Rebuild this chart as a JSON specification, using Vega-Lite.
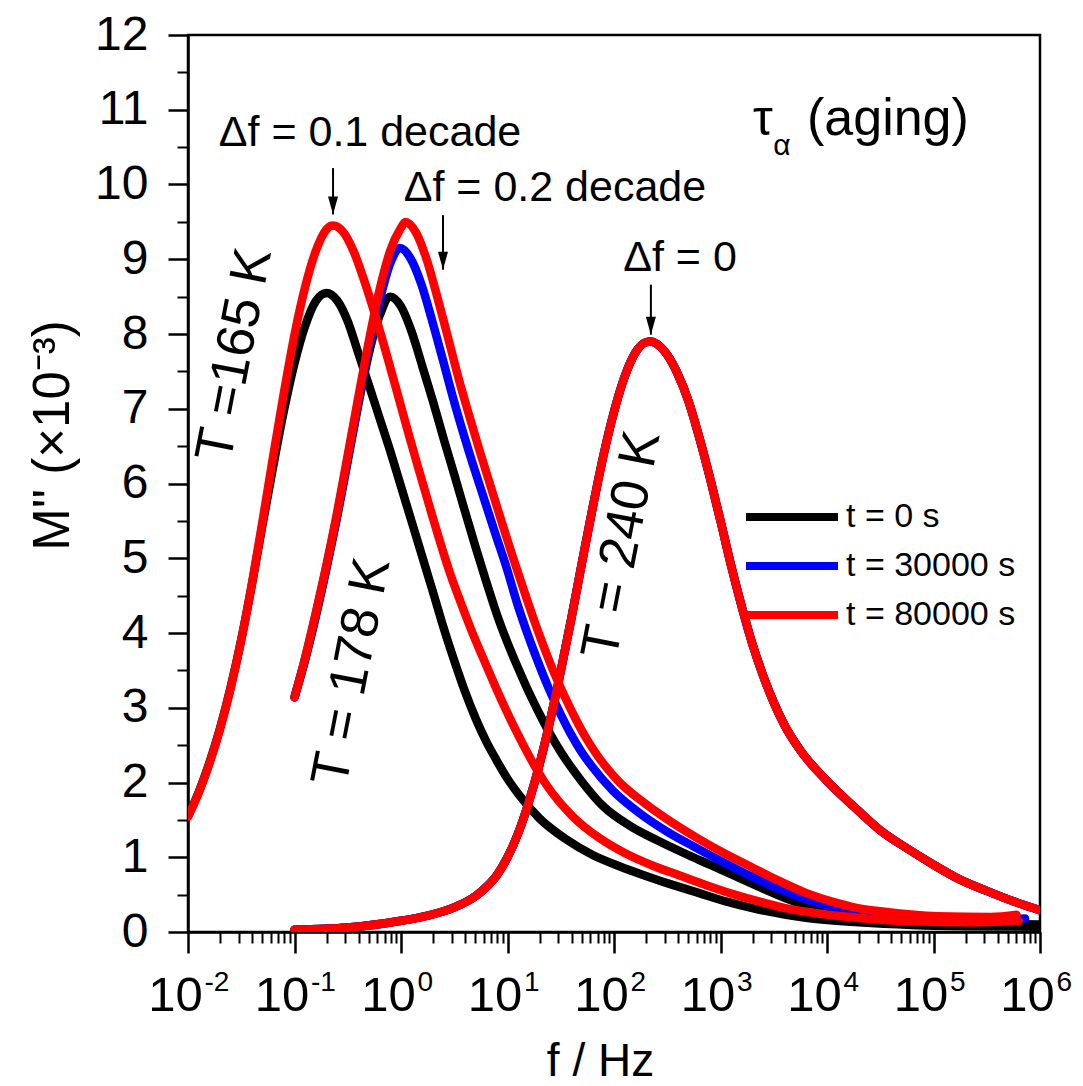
{
  "$schema": "https://vega.github.io/schema/vega-lite/v6.json",
  "width": 852,
  "height": 897,
  "autosize": {"type": "none"},
  "padding": {"left": 188, "top": 35, "right": 43, "bottom": 154},
  "config": {
    "font": "Liberation Sans",
    "view": {"stroke": "black", "strokeWidth": 2.5},
    "axis": {"grid": false, "domainColor": "black", "tickColor": "black", "labelColor": "black", "titleColor": "black", "labelFont": "Liberation Sans", "titleFont": "Liberation Sans", "titleFontWeight": "normal"}
  },
  "datasets": {
    "curves": [
      {"T":165,"t":"t = 0 s","f":0.01,"M":1.55},
      {"T":165,"t":"t = 0 s","f":0.012589,"M":1.87},
      {"T":165,"t":"t = 0 s","f":0.015849,"M":2.26},
      {"T":165,"t":"t = 0 s","f":0.019953,"M":2.72},
      {"T":165,"t":"t = 0 s","f":0.025119,"M":3.27},
      {"T":165,"t":"t = 0 s","f":0.031623,"M":3.91},
      {"T":165,"t":"t = 0 s","f":0.039811,"M":4.65},
      {"T":165,"t":"t = 0 s","f":0.050119,"M":5.45},
      {"T":165,"t":"t = 0 s","f":0.063096,"M":6.23},
      {"T":165,"t":"t = 0 s","f":0.079433,"M":6.97},
      {"T":165,"t":"t = 0 s","f":0.1,"M":7.61},
      {"T":165,"t":"t = 0 s","f":0.12589,"M":8.11},
      {"T":165,"t":"t = 0 s","f":0.15849,"M":8.44},
      {"T":165,"t":"t = 0 s","f":0.19953,"M":8.55},
      {"T":165,"t":"t = 0 s","f":0.25119,"M":8.45},
      {"T":165,"t":"t = 0 s","f":0.31623,"M":8.17},
      {"T":165,"t":"t = 0 s","f":0.39811,"M":7.74},
      {"T":165,"t":"t = 0 s","f":0.50119,"M":7.31},
      {"T":165,"t":"t = 0 s","f":0.63096,"M":6.87},
      {"T":165,"t":"t = 0 s","f":0.79433,"M":6.43},
      {"T":165,"t":"t = 0 s","f":1.0,"M":5.96},
      {"T":165,"t":"t = 0 s","f":1.2589,"M":5.49},
      {"T":165,"t":"t = 0 s","f":1.5849,"M":5.02},
      {"T":165,"t":"t = 0 s","f":1.9953,"M":4.55},
      {"T":165,"t":"t = 0 s","f":2.5119,"M":4.07},
      {"T":165,"t":"t = 0 s","f":3.1623,"M":3.63},
      {"T":165,"t":"t = 0 s","f":3.9811,"M":3.22},
      {"T":165,"t":"t = 0 s","f":5.0119,"M":2.86},
      {"T":165,"t":"t = 0 s","f":6.3096,"M":2.55},
      {"T":165,"t":"t = 0 s","f":7.9433,"M":2.29},
      {"T":165,"t":"t = 0 s","f":10.0,"M":2.05},
      {"T":165,"t":"t = 0 s","f":12.589,"M":1.85},
      {"T":165,"t":"t = 0 s","f":19.953,"M":1.52},
      {"T":165,"t":"t = 0 s","f":35.481,"M":1.24},
      {"T":165,"t":"t = 0 s","f":63.096,"M":1.03},
      {"T":165,"t":"t = 0 s","f":112.2,"M":0.88},
      {"T":165,"t":"t = 0 s","f":199.53,"M":0.75},
      {"T":165,"t":"t = 0 s","f":354.81,"M":0.63},
      {"T":165,"t":"t = 0 s","f":630.96,"M":0.52},
      {"T":165,"t":"t = 0 s","f":1122,"M":0.41},
      {"T":165,"t":"t = 0 s","f":1995.3,"M":0.32},
      {"T":165,"t":"t = 0 s","f":6309.6,"M":0.19},
      {"T":165,"t":"t = 0 s","f":19953,"M":0.13},
      {"T":165,"t":"t = 0 s","f":63096,"M":0.094},
      {"T":165,"t":"t = 0 s","f":199526,"M":0.077},
      {"T":165,"t":"t = 0 s","f":1000000,"M":0.07},

      {"T":178,"t":"t = 0 s","f":0.1,"M":3.14},
      {"T":178,"t":"t = 0 s","f":0.12589,"M":3.64},
      {"T":178,"t":"t = 0 s","f":0.15849,"M":4.22},
      {"T":178,"t":"t = 0 s","f":0.19953,"M":4.86},
      {"T":178,"t":"t = 0 s","f":0.25119,"M":5.55},
      {"T":178,"t":"t = 0 s","f":0.31623,"M":6.3},
      {"T":178,"t":"t = 0 s","f":0.39811,"M":7.06},
      {"T":178,"t":"t = 0 s","f":0.50119,"M":7.75},
      {"T":178,"t":"t = 0 s","f":0.63096,"M":8.25},
      {"T":178,"t":"t = 0 s","f":0.79433,"M":8.5},
      {"T":178,"t":"t = 0 s","f":1.0,"M":8.37},
      {"T":178,"t":"t = 0 s","f":1.2589,"M":8.03},
      {"T":178,"t":"t = 0 s","f":1.5849,"M":7.57},
      {"T":178,"t":"t = 0 s","f":1.9953,"M":7.1},
      {"T":178,"t":"t = 0 s","f":2.5119,"M":6.6},
      {"T":178,"t":"t = 0 s","f":3.1623,"M":6.12},
      {"T":178,"t":"t = 0 s","f":3.9811,"M":5.63},
      {"T":178,"t":"t = 0 s","f":5.0119,"M":5.15},
      {"T":178,"t":"t = 0 s","f":6.3096,"M":4.69},
      {"T":178,"t":"t = 0 s","f":7.9433,"M":4.25},
      {"T":178,"t":"t = 0 s","f":10.0,"M":3.87},
      {"T":178,"t":"t = 0 s","f":12.589,"M":3.53},
      {"T":178,"t":"t = 0 s","f":15.849,"M":3.21},
      {"T":178,"t":"t = 0 s","f":19.953,"M":2.92},
      {"T":178,"t":"t = 0 s","f":25.119,"M":2.65},
      {"T":178,"t":"t = 0 s","f":31.623,"M":2.41},
      {"T":178,"t":"t = 0 s","f":39.811,"M":2.2},
      {"T":178,"t":"t = 0 s","f":50.119,"M":2.01},
      {"T":178,"t":"t = 0 s","f":79.433,"M":1.68},
      {"T":178,"t":"t = 0 s","f":141.25,"M":1.42},
      {"T":178,"t":"t = 0 s","f":251.19,"M":1.23},
      {"T":178,"t":"t = 0 s","f":446.68,"M":1.06},
      {"T":178,"t":"t = 0 s","f":794.33,"M":0.9},
      {"T":178,"t":"t = 0 s","f":1412.5,"M":0.74},
      {"T":178,"t":"t = 0 s","f":2511.9,"M":0.58},
      {"T":178,"t":"t = 0 s","f":4466.8,"M":0.43},
      {"T":178,"t":"t = 0 s","f":7943.3,"M":0.31},
      {"T":178,"t":"t = 0 s","f":14125,"M":0.23},
      {"T":178,"t":"t = 0 s","f":25119,"M":0.18},
      {"T":178,"t":"t = 0 s","f":79433,"M":0.13},
      {"T":178,"t":"t = 0 s","f":251189,"M":0.11},
      {"T":178,"t":"t = 0 s","f":1000000,"M":0.1},

      {"T":240,"t":"t = 0 s","f":0.1,"M":0.03},
      {"T":240,"t":"t = 0 s","f":0.31623,"M":0.06},
      {"T":240,"t":"t = 0 s","f":1.0,"M":0.15},
      {"T":240,"t":"t = 0 s","f":1.7783,"M":0.22},
      {"T":240,"t":"t = 0 s","f":3.1623,"M":0.33},
      {"T":240,"t":"t = 0 s","f":5.0119,"M":0.48},
      {"T":240,"t":"t = 0 s","f":6.3096,"M":0.6},
      {"T":240,"t":"t = 0 s","f":7.9433,"M":0.76},
      {"T":240,"t":"t = 0 s","f":10.0,"M":1.0},
      {"T":240,"t":"t = 0 s","f":12.589,"M":1.32},
      {"T":240,"t":"t = 0 s","f":15.849,"M":1.74},
      {"T":240,"t":"t = 0 s","f":19.953,"M":2.24},
      {"T":240,"t":"t = 0 s","f":25.119,"M":2.83},
      {"T":240,"t":"t = 0 s","f":31.623,"M":3.49},
      {"T":240,"t":"t = 0 s","f":39.811,"M":4.2},
      {"T":240,"t":"t = 0 s","f":50.119,"M":4.95},
      {"T":240,"t":"t = 0 s","f":63.096,"M":5.68},
      {"T":240,"t":"t = 0 s","f":79.433,"M":6.37},
      {"T":240,"t":"t = 0 s","f":100.0,"M":6.96},
      {"T":240,"t":"t = 0 s","f":125.89,"M":7.43},
      {"T":240,"t":"t = 0 s","f":158.49,"M":7.75},
      {"T":240,"t":"t = 0 s","f":199.53,"M":7.89},
      {"T":240,"t":"t = 0 s","f":223.87,"M":7.9},
      {"T":240,"t":"t = 0 s","f":251.19,"M":7.87},
      {"T":240,"t":"t = 0 s","f":316.23,"M":7.72},
      {"T":240,"t":"t = 0 s","f":398.11,"M":7.46},
      {"T":240,"t":"t = 0 s","f":501.19,"M":7.1},
      {"T":240,"t":"t = 0 s","f":630.96,"M":6.62},
      {"T":240,"t":"t = 0 s","f":794.33,"M":6.08},
      {"T":240,"t":"t = 0 s","f":1000,"M":5.5},
      {"T":240,"t":"t = 0 s","f":1258.9,"M":4.9},
      {"T":240,"t":"t = 0 s","f":1584.9,"M":4.35},
      {"T":240,"t":"t = 0 s","f":1995.3,"M":3.85},
      {"T":240,"t":"t = 0 s","f":2511.9,"M":3.43},
      {"T":240,"t":"t = 0 s","f":3162.3,"M":3.07},
      {"T":240,"t":"t = 0 s","f":3981.1,"M":2.77},
      {"T":240,"t":"t = 0 s","f":5623.4,"M":2.43},
      {"T":240,"t":"t = 0 s","f":10000,"M":2.02},
      {"T":240,"t":"t = 0 s","f":17783,"M":1.68},
      {"T":240,"t":"t = 0 s","f":31623,"M":1.36},
      {"T":240,"t":"t = 0 s","f":56234,"M":1.12},
      {"T":240,"t":"t = 0 s","f":100000,"M":0.9},
      {"T":240,"t":"t = 0 s","f":177828,"M":0.7},
      {"T":240,"t":"t = 0 s","f":316228,"M":0.55},
      {"T":240,"t":"t = 0 s","f":562341,"M":0.41},
      {"T":240,"t":"t = 0 s","f":1000000,"M":0.29},

      {"T":178,"t":"t = 30000 s","f":0.1,"M":3.14},
      {"T":178,"t":"t = 30000 s","f":0.12589,"M":3.66},
      {"T":178,"t":"t = 30000 s","f":0.15849,"M":4.25},
      {"T":178,"t":"t = 30000 s","f":0.19953,"M":4.89},
      {"T":178,"t":"t = 30000 s","f":0.25119,"M":5.58},
      {"T":178,"t":"t = 30000 s","f":0.31623,"M":6.34},
      {"T":178,"t":"t = 30000 s","f":0.39811,"M":7.11},
      {"T":178,"t":"t = 30000 s","f":0.50119,"M":7.84},
      {"T":178,"t":"t = 30000 s","f":0.63096,"M":8.45},
      {"T":178,"t":"t = 30000 s","f":0.79433,"M":8.95},
      {"T":178,"t":"t = 30000 s","f":0.97724,"M":9.15},
      {"T":178,"t":"t = 30000 s","f":1.2303,"M":9.01},
      {"T":178,"t":"t = 30000 s","f":1.5488,"M":8.67},
      {"T":178,"t":"t = 30000 s","f":1.9498,"M":8.19},
      {"T":178,"t":"t = 30000 s","f":2.4547,"M":7.67},
      {"T":178,"t":"t = 30000 s","f":3.0903,"M":7.14},
      {"T":178,"t":"t = 30000 s","f":3.8905,"M":6.65},
      {"T":178,"t":"t = 30000 s","f":4.8978,"M":6.19},
      {"T":178,"t":"t = 30000 s","f":6.166,"M":5.75},
      {"T":178,"t":"t = 30000 s","f":7.7625,"M":5.31},
      {"T":178,"t":"t = 30000 s","f":9.7724,"M":4.88},
      {"T":178,"t":"t = 30000 s","f":12.303,"M":4.4},
      {"T":178,"t":"t = 30000 s","f":15.488,"M":3.98},
      {"T":178,"t":"t = 30000 s","f":19.498,"M":3.6},
      {"T":178,"t":"t = 30000 s","f":24.547,"M":3.25},
      {"T":178,"t":"t = 30000 s","f":30.903,"M":2.94},
      {"T":178,"t":"t = 30000 s","f":38.905,"M":2.66},
      {"T":178,"t":"t = 30000 s","f":48.978,"M":2.42},
      {"T":178,"t":"t = 30000 s","f":61.66,"M":2.22},
      {"T":178,"t":"t = 30000 s","f":97.724,"M":1.89},
      {"T":178,"t":"t = 30000 s","f":173.78,"M":1.59},
      {"T":178,"t":"t = 30000 s","f":309.03,"M":1.35},
      {"T":178,"t":"t = 30000 s","f":549.54,"M":1.15},
      {"T":178,"t":"t = 30000 s","f":977.24,"M":0.96},
      {"T":178,"t":"t = 30000 s","f":1737.8,"M":0.78},
      {"T":178,"t":"t = 30000 s","f":3090.3,"M":0.61},
      {"T":178,"t":"t = 30000 s","f":5495.4,"M":0.47},
      {"T":178,"t":"t = 30000 s","f":9772.4,"M":0.36},
      {"T":178,"t":"t = 30000 s","f":17378,"M":0.28},
      {"T":178,"t":"t = 30000 s","f":30903,"M":0.23},
      {"T":178,"t":"t = 30000 s","f":97724,"M":0.19},
      {"T":178,"t":"t = 30000 s","f":309030,"M":0.17},
      {"T":178,"t":"t = 30000 s","f":724436,"M":0.18},

      {"T":240,"t":"t = 30000 s","f":0.1,"M":0.03},
      {"T":240,"t":"t = 30000 s","f":0.31623,"M":0.06},
      {"T":240,"t":"t = 30000 s","f":1.0,"M":0.15},
      {"T":240,"t":"t = 30000 s","f":1.7783,"M":0.22},
      {"T":240,"t":"t = 30000 s","f":3.1623,"M":0.33},
      {"T":240,"t":"t = 30000 s","f":5.0119,"M":0.48},
      {"T":240,"t":"t = 30000 s","f":6.3096,"M":0.6},
      {"T":240,"t":"t = 30000 s","f":7.9433,"M":0.76},
      {"T":240,"t":"t = 30000 s","f":10.0,"M":1.0},
      {"T":240,"t":"t = 30000 s","f":12.589,"M":1.32},
      {"T":240,"t":"t = 30000 s","f":15.849,"M":1.74},
      {"T":240,"t":"t = 30000 s","f":19.953,"M":2.24},
      {"T":240,"t":"t = 30000 s","f":25.119,"M":2.83},
      {"T":240,"t":"t = 30000 s","f":31.623,"M":3.49},
      {"T":240,"t":"t = 30000 s","f":39.811,"M":4.2},
      {"T":240,"t":"t = 30000 s","f":50.119,"M":4.95},
      {"T":240,"t":"t = 30000 s","f":63.096,"M":5.68},
      {"T":240,"t":"t = 30000 s","f":79.433,"M":6.37},
      {"T":240,"t":"t = 30000 s","f":100.0,"M":6.96},
      {"T":240,"t":"t = 30000 s","f":125.89,"M":7.43},
      {"T":240,"t":"t = 30000 s","f":158.49,"M":7.75},
      {"T":240,"t":"t = 30000 s","f":199.53,"M":7.89},
      {"T":240,"t":"t = 30000 s","f":223.87,"M":7.9},
      {"T":240,"t":"t = 30000 s","f":251.19,"M":7.87},
      {"T":240,"t":"t = 30000 s","f":316.23,"M":7.72},
      {"T":240,"t":"t = 30000 s","f":398.11,"M":7.46},
      {"T":240,"t":"t = 30000 s","f":501.19,"M":7.1},
      {"T":240,"t":"t = 30000 s","f":630.96,"M":6.62},
      {"T":240,"t":"t = 30000 s","f":794.33,"M":6.08},
      {"T":240,"t":"t = 30000 s","f":1000,"M":5.5},
      {"T":240,"t":"t = 30000 s","f":1258.9,"M":4.9},
      {"T":240,"t":"t = 30000 s","f":1584.9,"M":4.35},
      {"T":240,"t":"t = 30000 s","f":1995.3,"M":3.85},
      {"T":240,"t":"t = 30000 s","f":2511.9,"M":3.43},
      {"T":240,"t":"t = 30000 s","f":3162.3,"M":3.07},
      {"T":240,"t":"t = 30000 s","f":3981.1,"M":2.77},
      {"T":240,"t":"t = 30000 s","f":5623.4,"M":2.43},
      {"T":240,"t":"t = 30000 s","f":10000,"M":2.02},
      {"T":240,"t":"t = 30000 s","f":17783,"M":1.68},
      {"T":240,"t":"t = 30000 s","f":31623,"M":1.36},
      {"T":240,"t":"t = 30000 s","f":56234,"M":1.12},
      {"T":240,"t":"t = 30000 s","f":100000,"M":0.9},
      {"T":240,"t":"t = 30000 s","f":177828,"M":0.7},
      {"T":240,"t":"t = 30000 s","f":316228,"M":0.55},
      {"T":240,"t":"t = 30000 s","f":562341,"M":0.41},
      {"T":240,"t":"t = 30000 s","f":1000000,"M":0.29},

      {"T":165,"t":"t = 80000 s","f":0.01,"M":1.54},
      {"T":165,"t":"t = 80000 s","f":0.012589,"M":1.86},
      {"T":165,"t":"t = 80000 s","f":0.015849,"M":2.25},
      {"T":165,"t":"t = 80000 s","f":0.019953,"M":2.71},
      {"T":165,"t":"t = 80000 s","f":0.025119,"M":3.26},
      {"T":165,"t":"t = 80000 s","f":0.031623,"M":3.91},
      {"T":165,"t":"t = 80000 s","f":0.039811,"M":4.66},
      {"T":165,"t":"t = 80000 s","f":0.050119,"M":5.5},
      {"T":165,"t":"t = 80000 s","f":0.063096,"M":6.37},
      {"T":165,"t":"t = 80000 s","f":0.079433,"M":7.21},
      {"T":165,"t":"t = 80000 s","f":0.1,"M":7.99},
      {"T":165,"t":"t = 80000 s","f":0.12589,"M":8.63},
      {"T":165,"t":"t = 80000 s","f":0.15849,"M":9.11},
      {"T":165,"t":"t = 80000 s","f":0.19953,"M":9.4},
      {"T":165,"t":"t = 80000 s","f":0.22909,"M":9.45},
      {"T":165,"t":"t = 80000 s","f":0.28840,"M":9.36},
      {"T":165,"t":"t = 80000 s","f":0.36308,"M":9.09},
      {"T":165,"t":"t = 80000 s","f":0.45709,"M":8.69},
      {"T":165,"t":"t = 80000 s","f":0.57544,"M":8.24},
      {"T":165,"t":"t = 80000 s","f":0.72444,"M":7.75},
      {"T":165,"t":"t = 80000 s","f":0.91201,"M":7.24},
      {"T":165,"t":"t = 80000 s","f":1.1482,"M":6.72},
      {"T":165,"t":"t = 80000 s","f":1.4454,"M":6.22},
      {"T":165,"t":"t = 80000 s","f":1.8197,"M":5.73},
      {"T":165,"t":"t = 80000 s","f":2.2909,"M":5.25},
      {"T":165,"t":"t = 80000 s","f":2.884,"M":4.8},
      {"T":165,"t":"t = 80000 s","f":3.6308,"M":4.41},
      {"T":165,"t":"t = 80000 s","f":4.5709,"M":4.04},
      {"T":165,"t":"t = 80000 s","f":5.7544,"M":3.7},
      {"T":165,"t":"t = 80000 s","f":7.2444,"M":3.37},
      {"T":165,"t":"t = 80000 s","f":9.1201,"M":3.05},
      {"T":165,"t":"t = 80000 s","f":11.482,"M":2.75},
      {"T":165,"t":"t = 80000 s","f":14.454,"M":2.47},
      {"T":165,"t":"t = 80000 s","f":18.197,"M":2.21},
      {"T":165,"t":"t = 80000 s","f":22.909,"M":1.98},
      {"T":165,"t":"t = 80000 s","f":40.738,"M":1.55},
      {"T":165,"t":"t = 80000 s","f":72.444,"M":1.26},
      {"T":165,"t":"t = 80000 s","f":128.82,"M":1.05},
      {"T":165,"t":"t = 80000 s","f":229.09,"M":0.89},
      {"T":165,"t":"t = 80000 s","f":407.38,"M":0.76},
      {"T":165,"t":"t = 80000 s","f":724.44,"M":0.63},
      {"T":165,"t":"t = 80000 s","f":1288.2,"M":0.51},
      {"T":165,"t":"t = 80000 s","f":2290.9,"M":0.41},
      {"T":165,"t":"t = 80000 s","f":4073.8,"M":0.32},
      {"T":165,"t":"t = 80000 s","f":7244.4,"M":0.26},
      {"T":165,"t":"t = 80000 s","f":22909,"M":0.18},
      {"T":165,"t":"t = 80000 s","f":72444,"M":0.14},
      {"T":165,"t":"t = 80000 s","f":229087,"M":0.13},
      {"T":165,"t":"t = 80000 s","f":630957,"M":0.15},

      {"T":178,"t":"t = 80000 s","f":0.1,"M":3.14},
      {"T":178,"t":"t = 80000 s","f":0.12589,"M":3.67},
      {"T":178,"t":"t = 80000 s","f":0.15849,"M":4.27},
      {"T":178,"t":"t = 80000 s","f":0.19953,"M":4.91},
      {"T":178,"t":"t = 80000 s","f":0.25119,"M":5.61},
      {"T":178,"t":"t = 80000 s","f":0.31623,"M":6.38},
      {"T":178,"t":"t = 80000 s","f":0.39811,"M":7.16},
      {"T":178,"t":"t = 80000 s","f":0.50119,"M":7.92},
      {"T":178,"t":"t = 80000 s","f":0.63096,"M":8.6},
      {"T":178,"t":"t = 80000 s","f":0.79433,"M":9.12},
      {"T":178,"t":"t = 80000 s","f":1.0,"M":9.42},
      {"T":178,"t":"t = 80000 s","f":1.0965,"M":9.5},
      {"T":178,"t":"t = 80000 s","f":1.3804,"M":9.36},
      {"T":178,"t":"t = 80000 s","f":1.7378,"M":9.0},
      {"T":178,"t":"t = 80000 s","f":2.1878,"M":8.5},
      {"T":178,"t":"t = 80000 s","f":2.7542,"M":7.96},
      {"T":178,"t":"t = 80000 s","f":3.4674,"M":7.41},
      {"T":178,"t":"t = 80000 s","f":4.3652,"M":6.91},
      {"T":178,"t":"t = 80000 s","f":5.4954,"M":6.43},
      {"T":178,"t":"t = 80000 s","f":6.9183,"M":5.97},
      {"T":178,"t":"t = 80000 s","f":8.7096,"M":5.51},
      {"T":178,"t":"t = 80000 s","f":10.965,"M":5.06},
      {"T":178,"t":"t = 80000 s","f":13.804,"M":4.63},
      {"T":178,"t":"t = 80000 s","f":17.378,"M":4.21},
      {"T":178,"t":"t = 80000 s","f":21.878,"M":3.82},
      {"T":178,"t":"t = 80000 s","f":27.542,"M":3.46},
      {"T":178,"t":"t = 80000 s","f":34.674,"M":3.14},
      {"T":178,"t":"t = 80000 s","f":43.652,"M":2.85},
      {"T":178,"t":"t = 80000 s","f":54.954,"M":2.59},
      {"T":178,"t":"t = 80000 s","f":69.183,"M":2.37},
      {"T":178,"t":"t = 80000 s","f":109.65,"M":2.02},
      {"T":178,"t":"t = 80000 s","f":194.98,"M":1.72},
      {"T":178,"t":"t = 80000 s","f":346.74,"M":1.47},
      {"T":178,"t":"t = 80000 s","f":616.6,"M":1.25},
      {"T":178,"t":"t = 80000 s","f":1096.5,"M":1.05},
      {"T":178,"t":"t = 80000 s","f":1949.8,"M":0.87},
      {"T":178,"t":"t = 80000 s","f":3467.4,"M":0.69},
      {"T":178,"t":"t = 80000 s","f":6166,"M":0.53},
      {"T":178,"t":"t = 80000 s","f":10965,"M":0.41},
      {"T":178,"t":"t = 80000 s","f":19498,"M":0.32},
      {"T":178,"t":"t = 80000 s","f":34674,"M":0.27},
      {"T":178,"t":"t = 80000 s","f":109648,"M":0.21},
      {"T":178,"t":"t = 80000 s","f":346737,"M":0.2},
      {"T":178,"t":"t = 80000 s","f":602560,"M":0.23},

      {"T":240,"t":"t = 80000 s","f":0.1,"M":0.03},
      {"T":240,"t":"t = 80000 s","f":0.31623,"M":0.06},
      {"T":240,"t":"t = 80000 s","f":1.0,"M":0.15},
      {"T":240,"t":"t = 80000 s","f":1.7783,"M":0.22},
      {"T":240,"t":"t = 80000 s","f":3.1623,"M":0.33},
      {"T":240,"t":"t = 80000 s","f":5.0119,"M":0.48},
      {"T":240,"t":"t = 80000 s","f":6.3096,"M":0.6},
      {"T":240,"t":"t = 80000 s","f":7.9433,"M":0.76},
      {"T":240,"t":"t = 80000 s","f":10.0,"M":1.0},
      {"T":240,"t":"t = 80000 s","f":12.589,"M":1.32},
      {"T":240,"t":"t = 80000 s","f":15.849,"M":1.74},
      {"T":240,"t":"t = 80000 s","f":19.953,"M":2.24},
      {"T":240,"t":"t = 80000 s","f":25.119,"M":2.83},
      {"T":240,"t":"t = 80000 s","f":31.623,"M":3.49},
      {"T":240,"t":"t = 80000 s","f":39.811,"M":4.2},
      {"T":240,"t":"t = 80000 s","f":50.119,"M":4.95},
      {"T":240,"t":"t = 80000 s","f":63.096,"M":5.68},
      {"T":240,"t":"t = 80000 s","f":79.433,"M":6.37},
      {"T":240,"t":"t = 80000 s","f":100.0,"M":6.96},
      {"T":240,"t":"t = 80000 s","f":125.89,"M":7.43},
      {"T":240,"t":"t = 80000 s","f":158.49,"M":7.75},
      {"T":240,"t":"t = 80000 s","f":199.53,"M":7.89},
      {"T":240,"t":"t = 80000 s","f":223.87,"M":7.9},
      {"T":240,"t":"t = 80000 s","f":251.19,"M":7.87},
      {"T":240,"t":"t = 80000 s","f":316.23,"M":7.72},
      {"T":240,"t":"t = 80000 s","f":398.11,"M":7.46},
      {"T":240,"t":"t = 80000 s","f":501.19,"M":7.1},
      {"T":240,"t":"t = 80000 s","f":630.96,"M":6.62},
      {"T":240,"t":"t = 80000 s","f":794.33,"M":6.08},
      {"T":240,"t":"t = 80000 s","f":1000,"M":5.5},
      {"T":240,"t":"t = 80000 s","f":1258.9,"M":4.9},
      {"T":240,"t":"t = 80000 s","f":1584.9,"M":4.35},
      {"T":240,"t":"t = 80000 s","f":1995.3,"M":3.85},
      {"T":240,"t":"t = 80000 s","f":2511.9,"M":3.43},
      {"T":240,"t":"t = 80000 s","f":3162.3,"M":3.07},
      {"T":240,"t":"t = 80000 s","f":3981.1,"M":2.77},
      {"T":240,"t":"t = 80000 s","f":5623.4,"M":2.43},
      {"T":240,"t":"t = 80000 s","f":10000,"M":2.02},
      {"T":240,"t":"t = 80000 s","f":17783,"M":1.68},
      {"T":240,"t":"t = 80000 s","f":31623,"M":1.36},
      {"T":240,"t":"t = 80000 s","f":56234,"M":1.12},
      {"T":240,"t":"t = 80000 s","f":100000,"M":0.9},
      {"T":240,"t":"t = 80000 s","f":177828,"M":0.7},
      {"T":240,"t":"t = 80000 s","f":316228,"M":0.55},
      {"T":240,"t":"t = 80000 s","f":562341,"M":0.41},
      {"T":240,"t":"t = 80000 s","f":1000000,"M":0.29}
    ],
    "arrows": [
      {"f": 0.2301, "top": 10.22, "tip": 9.6},
      {"f": 2.48, "top": 9.59, "tip": 8.86},
      {"f": 222, "top": 8.66, "tip": 7.99}
    ],
    "notes": [
      {"label": "Δf = 0.1 decade", "f": 0.512, "M": 10.69},
      {"label": "Δf = 0.2 decade", "f": 27.9, "M": 9.95},
      {"label": "Δf = 0", "f": 417, "M": 9.02}
    ],
    "temps": [
      {"label": "T =165 K", "f": 0.0276, "M": 7.72},
      {"label": "T = 178 K", "f": 0.347, "M": 3.48},
      {"label": "T = 240 K", "f": 118.9, "M": 5.18}
    ]
  },
  "layer": [
    {
      "data": {"name": "curves"},
      "mark": {"type": "line", "strokeWidth": 8.5, "strokeCap": "round", "strokeJoin": "round", "interpolate": "monotone", "clip": true},
      "encoding": {
        "x": {
          "field": "f", "type": "quantitative",
          "scale": {"type": "log", "domain": [0.01, 1000000], "nice": false},
          "axis": {
            "orient": "bottom",
            "values": [0.01, 0.1, 1, 10, 100, 1000, 10000, 100000, 1000000],
            "labelExpr": "'10'",
            "labelFontSize": 49, "labelOffset": -13, "labelPadding": 18, "labelFlush": false, "labelOverlap": false,
            "tickSize": 21, "tickWidth": 2.5, "domainWidth": 2.5,
            "title": "f / Hz", "titleFontSize": 46, "titleBaseline": "alphabetic", "titleX": 412, "titleY": 143
          }
        },
        "y": {
          "field": "M", "type": "quantitative",
          "scale": {"domain": [0, 12], "nice": false, "zero": false},
          "axis": {
            "orient": "left",
            "values": [0,1,2,3,4,5,6,7,8,9,10,11,12],
            "labelFontSize": 48, "labelPadding": 20, "labelFlush": false, "labelOverlap": false,
            "tickSize": 20, "tickWidth": 2.5, "domainWidth": 2.5,
            "title": "M'' (×10⁻³)", "titleFontSize": 51, "titleAngle": -90, "titleBaseline": "alphabetic", "titleAlign": "center", "titleX": -120, "titleY": 400
          }
        },
        "color": {
          "field": "t", "type": "nominal",
          "scale": {"domain": ["t = 0 s", "t = 30000 s", "t = 80000 s"], "range": ["#000000", "#0000ff", "#ff0000"]},
          "legend": {
            "orient": "none", "legendX": 580, "legendY": 458, "title": null, "padding": 0,
            "symbolType": "M-2.3,0L2.3,0", "symbolSize": 1600, "symbolStrokeWidth": 8,
            "labelFontSize": 34, "labelFont": "Liberation Sans", "labelColor": "black", "labelOffset": 30, "labelLimit": 400, "rowPadding": 8
          }
        },
        "detail": {"field": "T", "type": "nominal"}
      }
    },
    {
      "data": {"name": "arrows"},
      "mark": {"type": "rule", "color": "black", "strokeWidth": 2},
      "encoding": {
        "x": {"field": "f", "type": "quantitative", "axis": {
          "orient": "bottom",
          "values": [0.02,0.03,0.04,0.05,0.06,0.07,0.08,0.09,0.2,0.3,0.4,0.5,0.6,0.7,0.8,0.9,2,3,4,5,6,7,8,9,20,30,40,50,60,70,80,90,200,300,400,500,600,700,800,900,2000,3000,4000,5000,6000,7000,8000,9000,20000,30000,40000,50000,60000,70000,80000,90000,200000,300000,400000,500000,600000,700000,800000,900000],
          "labels": false, "domain": false, "tickSize": 11, "tickWidth": 2, "title": null}},
        "y": {"field": "top", "type": "quantitative", "axis": {
          "orient": "left",
          "values": [0.5,1.5,2.5,3.5,4.5,5.5,6.5,7.5,8.5,9.5,10.5,11.5],
          "labels": false, "domain": false, "tickSize": 11, "tickWidth": 2, "title": null}},
        "y2": {"field": "tip"}
      }
    },
    {
      "data": {"name": "arrows"},
      "mark": {"type": "point", "shape": "M-0.5,-1.8L0.5,-1.8L0,0Z", "size": 400, "filled": true, "color": "black", "opacity": 1, "strokeWidth": 0},
      "encoding": {
        "x": {"field": "f", "type": "quantitative", "axis": {
          "orient": "bottom",
          "values": [0.01, 0.1, 1, 10, 100, 1000, 10000, 100000, 1000000],
          "labelExpr": "'' + round(log(datum.value) / LN10)",
          "labelFontSize": 28, "labelAlign": "left", "labelBaseline": "top", "labelOffset": 16, "labelPadding": 36, "labelFlush": false, "labelOverlap": false,
          "ticks": false, "tickSize": 0, "domain": false, "title": null}},
        "y": {"field": "tip", "type": "quantitative", "axis": null}
      }
    },
    {
      "data": {"name": "notes"},
      "mark": {"type": "text", "fontSize": 43, "align": "center", "baseline": "middle", "color": "black"},
      "encoding": {
        "x": {"field": "f", "type": "quantitative", "axis": null},
        "y": {"field": "M", "type": "quantitative", "axis": null},
        "text": {"field": "label"}
      }
    },
    {
      "data": {"name": "temps"},
      "mark": {"type": "text", "fontSize": 53, "align": "center", "baseline": "middle", "angle": -79, "color": "black"},
      "encoding": {
        "x": {"field": "f", "type": "quantitative", "axis": null},
        "y": {"field": "M", "type": "quantitative", "axis": null},
        "text": {"field": "label"}
      }
    },
    {
      "data": {"values": [{"label": "τ", "f": 2506, "M": 10.66}]},
      "mark": {"type": "text", "fontSize": 50, "align": "center", "baseline": "alphabetic", "color": "black"},
      "encoding": {
        "x": {"field": "f", "type": "quantitative", "axis": null},
        "y": {"field": "M", "type": "quantitative", "axis": null},
        "text": {"field": "label"}
      }
    },
    {
      "data": {"values": [{"label": "α", "f": 3776, "M": 10.39}]},
      "mark": {"type": "text", "fontSize": 30, "align": "center", "baseline": "alphabetic", "color": "black"},
      "encoding": {
        "x": {"field": "f", "type": "quantitative", "axis": null},
        "y": {"field": "M", "type": "quantitative", "axis": null},
        "text": {"field": "label"}
      }
    },
    {
      "data": {"values": [{"label": "(aging)", "f": 6486, "M": 10.66}]},
      "mark": {"type": "text", "fontSize": 52, "align": "left", "baseline": "alphabetic", "color": "black"},
      "encoding": {
        "x": {"field": "f", "type": "quantitative", "axis": null},
        "y": {"field": "M", "type": "quantitative", "axis": null},
        "text": {"field": "label"}
      }
    }
  ],
  "resolve": {"axis": {"x": "independent", "y": "independent"}}
}
